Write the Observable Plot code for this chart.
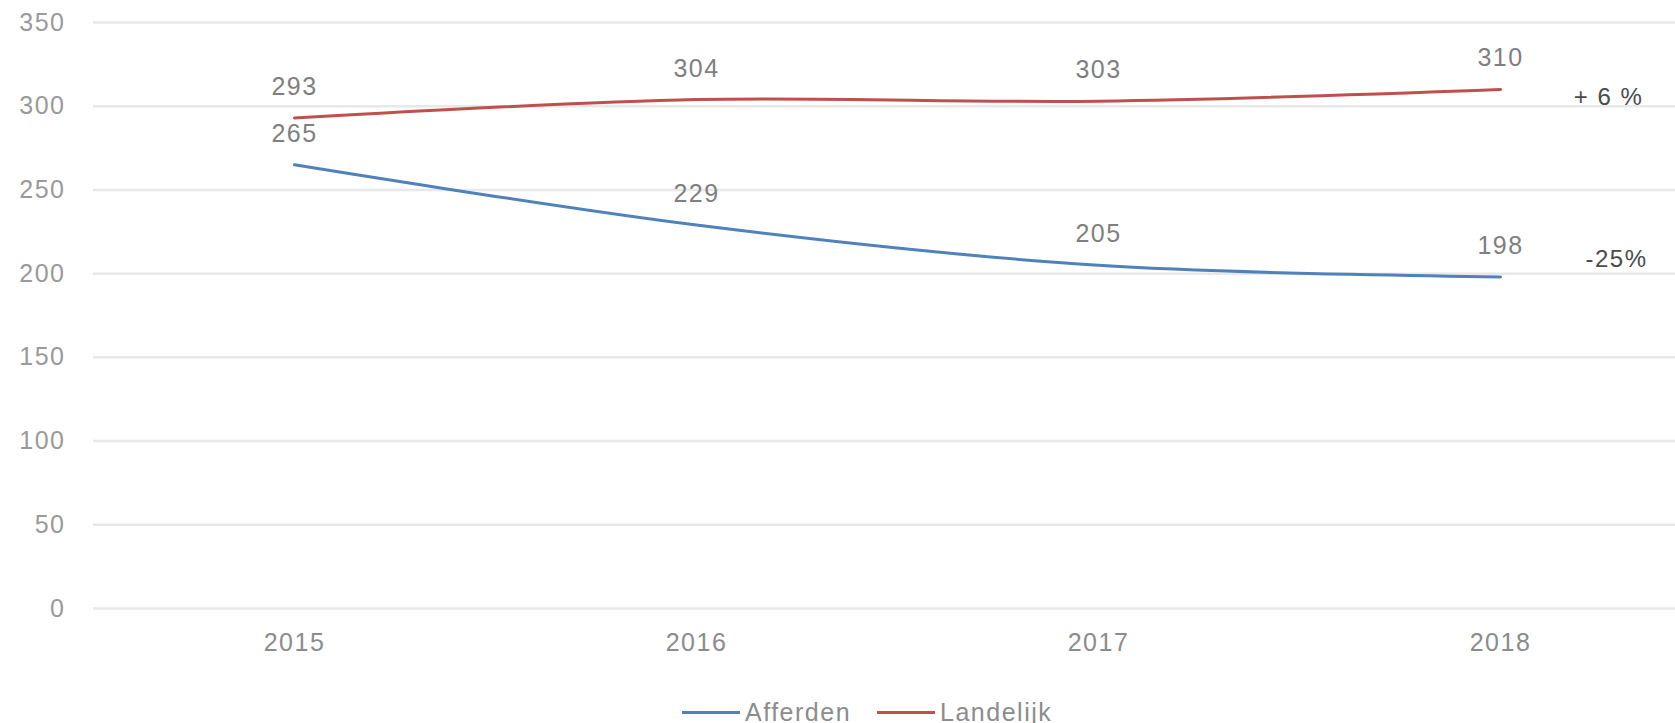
<!DOCTYPE html>
<html>
<head>
<meta charset="utf-8">
<script src="https://cdn.jsdelivr.net/npm/d3@7"></script>
<script src="https://cdn.jsdelivr.net/npm/@observablehq/plot@0.6"></script>
<style>
  html, body { margin: 0; padding: 0; background: #fff; }
  #chart svg { display: block; }
  .legend { display: flex; align-items: center; height: 44px; margin-left: 682px;
    font-family: "Liberation Sans", Arial, sans-serif; font-size: 25px; letter-spacing: 1.5px; color: #8c8c8c; }
  .legend .item { display: flex; align-items: center; margin-right: 26px; }
  .legend .sw { width: 58px; height: 3px; margin-right: 5px; }
</style>
</head>
<body>
<div id="chart"></div>
<script>
const years = ["2015", "2016", "2017", "2018"];
const afferden = [265, 229, 205, 198];
const landelijk = [293, 304, 303, 310];
const seriesNames = ["Afferden", "Landelijk"];
const seriesColors = ["#4F81BD", "#C0504D"];
const changeAfferden = "-25%";
const changeLandelijk = "+ 6 %";
const yTicks = [0, 50, 100, 150, 200, 250, 300, 350];

const rows = [];
years.forEach((yr, i) => {
  rows.push({year: yr, series: "Afferden", value: afferden[i]});
  rows.push({year: yr, series: "Landelijk", value: landelijk[i]});
});
const lastA = {year: years[years.length - 1], value: afferden[afferden.length - 1], text: changeAfferden};
const lastL = {year: years[years.length - 1], value: landelijk[landelijk.length - 1], text: changeLandelijk};

const chart = Plot.plot({
  width: 1675,
  height: 690,
  marginTop: 22,
  marginBottom: 82,
  marginLeft: 93,
  marginRight: 0,
  style: {fontFamily: "'Liberation Sans', Arial, sans-serif", fontSize: "25px", letterSpacing: "1.5px", background: "#fff"},
  x: {type: "point", domain: years, range: [293, 1501], padding: 0},
  y: {domain: [0, 350]},
  color: {domain: seriesNames, range: seriesColors},
  marks: [
    Plot.gridY(yTicks, {stroke: "#e8e8e8", strokeOpacity: 1, strokeWidth: 2.5}),
    Plot.axisY(yTicks, {tickSize: 0, tickPadding: 28, fill: "#9a9a9a", label: null}),
    Plot.axisX({tickSize: 0, tickPadding: 25, fill: "#8c8c8c", label: null}),
    Plot.lineY(rows, {x: "year", y: "value", z: "series", stroke: "series", strokeWidth: 3, curve: "catmull-rom"}),
    Plot.text(rows, {x: "year", y: "value", text: d => String(d.value), dy: -31, fill: "#7f7f7f"}),
    Plot.text([lastL], {x: "year", y: "value", text: "text", dx: 108, dy: 8, fill: "#4a4a4a", fontSize: 24}),
    Plot.text([lastA], {x: "year", y: "value", text: "text", dx: 116, dy: -18, fill: "#4a4a4a", fontSize: 24})
  ]
});
document.getElementById("chart").appendChild(chart);

const legend = document.createElement("div");
legend.className = "legend";
seriesNames.forEach((name, i) => {
  const item = document.createElement("div");
  item.className = "item";
  const sw = document.createElement("div");
  sw.className = "sw";
  sw.style.background = seriesColors[i];
  const label = document.createElement("span");
  label.textContent = name;
  item.appendChild(sw);
  item.appendChild(label);
  legend.appendChild(item);
});
document.body.appendChild(legend);
</script>
</body>
</html>
